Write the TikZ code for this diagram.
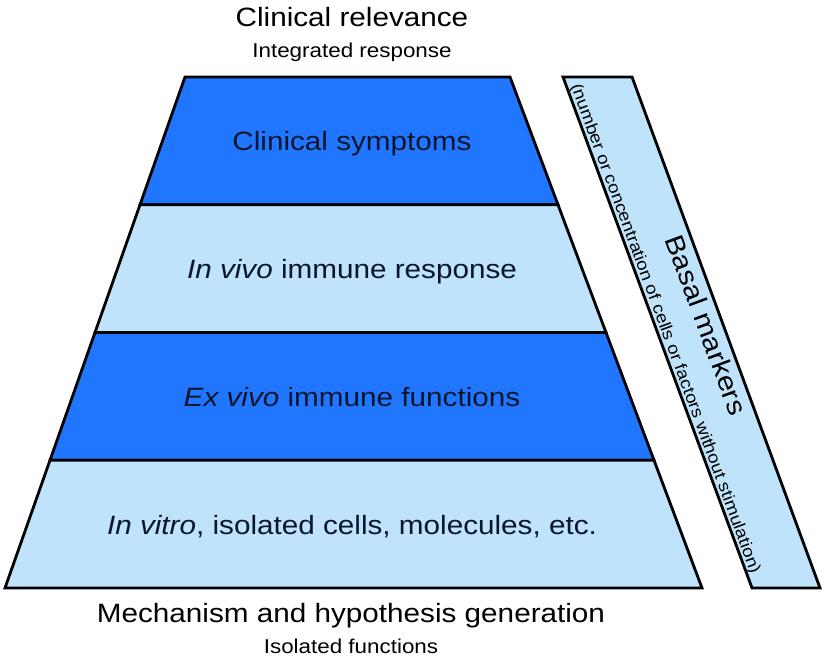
\documentclass[tikz,border=0pt]{standalone}
\usepackage{fontspec}
\setmainfont{Liberation Sans}[FakeStretch=1.12]
\usetikzlibrary{calc}
\definecolor{deepblue}{RGB}{33,118,255}
\definecolor{paleblue}{RGB}{190,227,251}
\definecolor{inkblue}{RGB}{10,22,45}
\begin{document}
\begin{tikzpicture}[x=1pt, y=-1pt, line width=2.8pt, line join=miter,
    tier/.style={draw=black},
    bigtext/.style={font=\fontsize{26.5}{30}\selectfont, anchor=base, inner sep=0pt},
    smalltext/.style={font=\fontsize{20}{24}\selectfont, anchor=base, inner sep=0pt},
    bartext/.style={rotate=-69.75, inner sep=0pt}]
  \useasboundingbox (0,0) rectangle (826,658);
  % pyramid corners
  \coordinate (tl) at (185,77);
  \coordinate (tr) at (510,77);
  \coordinate (bl) at (5,588);
  \coordinate (br) at (702,588);
  \foreach \i/\col in {0/deepblue,1/paleblue,2/deepblue,3/paleblue}{
    \pgfmathsetmacro\a{\i/4}
    \pgfmathsetmacro\b{(\i+1)/4}
    \draw[tier, fill=\col] ($(tl)!\a!(bl)$) -- ($(tr)!\a!(br)$) -- ($(tr)!\b!(br)$) -- ($(tl)!\b!(bl)$) -- cycle;
  }
  \node[bigtext, text=inkblue] (symptoms) at (352,150.5) {Clinical symptoms};
  \node[bigtext, text=inkblue] (invivo) at (352,278.5) {\textit{In vivo} immune response};
  \node[bigtext, text=inkblue] (exvivo) at (352,406.5) {\textit{Ex vivo} immune functions};
  \node[bigtext, text=inkblue] (invitro) at (352,534) {\textit{In vitro}, isolated cells, molecules, etc.};
  % top and bottom captions
  \node[bigtext] (relevance) at (352,27) {Clinical relevance};
  \node[smalltext] (integrated) at (352,58) {Integrated response};
  \node[bigtext] (mechanism) at (351,622) {Mechanism and hypothesis generation};
  \node[smalltext] (isolated) at (351,653) {Isolated functions};
  % slanted bar
  \draw[tier, fill=paleblue] (563,77) -- (632,77) -- (820,588) -- (752,588) -- cycle;
  \node[bartext, font=\fontsize{26.5}{30}\selectfont] (basal) at (706.6,324.9) {Basal markers};
  \node[bartext, font=\fontsize{16.7}{20}\selectfont] (basaldef) at (664.9,328.9) {(number or concentration of cells or factors without stimulation)};
\end{tikzpicture}
\end{document}
